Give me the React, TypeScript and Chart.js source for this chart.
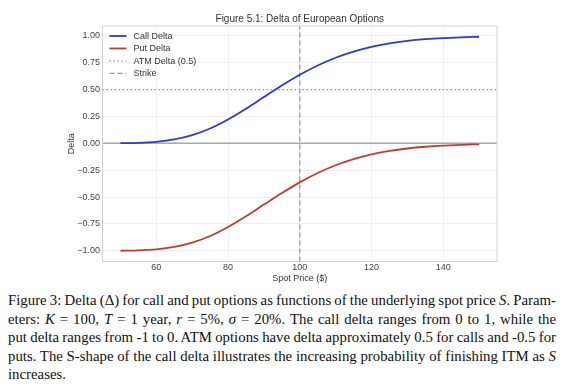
import React, { useEffect, useRef } from "react";
import { Chart, registerables } from "chart.js";

Chart.register(...registerables);

// Spot prices and the Black–Scholes deltas (K = 100, T = 1, r = 5%, sigma = 20%)
const spotPrices = [50, 55, 60, 65, 70, 75, 80, 85, 90, 95, 100, 105, 110, 115, 120, 125, 130, 135, 140, 145, 150];
const callDelta = [0.001, 0.004, 0.014, 0.036, 0.076, 0.138, 0.222, 0.322, 0.43, 0.537, 0.637, 0.724, 0.796, 0.853, 0.897, 0.929, 0.952, 0.968, 0.979, 0.986, 0.991];
const putDelta = [-0.999, -0.996, -0.986, -0.964, -0.924, -0.862, -0.778, -0.678, -0.57, -0.463, -0.363, -0.276, -0.204, -0.147, -0.103, -0.071, -0.048, -0.032, -0.021, -0.014, -0.009];

const strikePrice = 100;
const atmDelta = 0.5;
const xRange = [45, 155];
const yRange = [-1.099, 1.091];
const xTicks = [60, 80, 100, 120, 140];
const yTicks = [-1, -0.75, -0.5, -0.25, 0, 0.25, 0.5, 0.75, 1];

const SANS = '"Liberation Sans", Arial, sans-serif';

// Light frame round the plot area
const framePlugin = {
  id: "plotFrame",
  afterDraw(chart: any) {
    const { ctx, chartArea } = chart;
    ctx.save();
    ctx.strokeStyle = "#d2d2d2";
    ctx.lineWidth = 1;
    ctx.strokeRect(chartArea.left, chartArea.top, chartArea.right - chartArea.left, chartArea.bottom - chartArea.top);
    ctx.restore();
  },
};

// Legend drawn inside the top-left corner of the plot area, with each line's dash pattern
const insideLegendPlugin = {
  id: "insideLegend",
  afterDraw(chart: any) {
    const { ctx, chartArea } = chart;
    const x0 = chartArea.left + 7;
    const sample = 17;
    const rowGap = 12.45;
    let y = chartArea.top + 10;
    ctx.save();
    ctx.font = `9px ${SANS}`;
    ctx.textBaseline = "middle";
    ctx.textAlign = "left";
    chart.data.datasets.forEach((ds: any) => {
      if (ds.hideInLegend) return;
      ctx.beginPath();
      ctx.setLineDash(ds.borderDash || []);
      ctx.strokeStyle = ds.borderColor;
      ctx.lineWidth = ds.borderWidth;
      ctx.moveTo(x0, y);
      ctx.lineTo(x0 + sample, y);
      ctx.stroke();
      ctx.setLineDash([]);
      ctx.fillStyle = "#333";
      ctx.fillText(ds.label, x0 + sample + 7, y + 0.5);
      y += rowGap;
    });
    ctx.restore();
  },
};

function DeltaChart() {
  const ref = useRef<HTMLCanvasElement | null>(null);

  useEffect(() => {
    if (!ref.current) return;
    const toPoints = (ys: number[]) => spotPrices.map((x, i) => ({ x, y: ys[i] }));
    const chart = new Chart(ref.current, {
      type: "line",
      data: {
        datasets: [
          {
            label: "Call Delta",
            data: toPoints(callDelta),
            borderColor: "#2b3ad4",
            borderWidth: 1.8,
            pointRadius: 0,
            cubicInterpolationMode: "monotone",
          },
          {
            label: "Put Delta",
            data: toPoints(putDelta),
            borderColor: "#c43c2e",
            borderWidth: 1.8,
            pointRadius: 0,
            cubicInterpolationMode: "monotone",
          },
          {
            label: "ATM Delta (0.5)",
            data: [
              { x: xRange[0], y: atmDelta },
              { x: xRange[1], y: atmDelta },
            ],
            borderColor: "#9a9a9a",
            borderWidth: 1.3,
            borderDash: [1.5, 2.5],
            pointRadius: 0,
          },
          {
            label: "Strike",
            data: [
              { x: strikePrice, y: yRange[0] },
              { x: strikePrice, y: yRange[1] },
            ],
            borderColor: "#9a9a9a",
            borderWidth: 1.3,
            borderDash: [5, 3],
            pointRadius: 0,
          },
          {
            label: "zero",
            hideInLegend: true,
            data: [
              { x: xRange[0], y: 0 },
              { x: xRange[1], y: 0 },
            ],
            borderColor: "#a8a8a8",
            borderWidth: 1.4,
            pointRadius: 0,
          },
        ],
      } as any,
      options: {
        animation: false,
        responsive: false,
        layout: { padding: { left: 0, right: 67, top: 0, bottom: 0 } },
        scales: {
          x: {
            type: "linear",
            min: xRange[0],
            max: xRange[1],
            afterBuildTicks: (s: any) => {
              s.ticks = xTicks.map((v) => ({ value: v }));
            },
            afterFit: (s: any) => {
              s.height = 28.5;
            },
            grid: { color: "#ececec", lineWidth: 0.8, drawTicks: false },
            border: { display: false },
            ticks: {
              padding: 1,
              color: "#444",
              font: { family: SANS, size: 9 },
              callback: (v: any) => String(v),
            },
            title: {
              display: true,
              text: "Spot Price ($)",
              color: "#333",
              font: { family: SANS, size: 9 },
              padding: { top: 0, bottom: 6 },
            },
          },
          y: {
            type: "linear",
            min: yRange[0],
            max: yRange[1],
            afterBuildTicks: (s: any) => {
              s.ticks = yTicks.map((v) => ({ value: v }));
            },
            afterFit: (s: any) => {
              s.width = 102.5;
            },
            grid: { color: "#ececec", lineWidth: 0.8, drawTicks: false },
            border: { display: false },
            ticks: {
              padding: 2.5,
              color: "#444",
              font: { family: SANS, size: 9 },
              callback: (v: any) => Number(v).toFixed(2).replace("-", "\u2212"),
            },
            title: {
              display: true,
              text: "Delta",
              color: "#333",
              font: { family: SANS, size: 9 },
              padding: { top: 66.3, bottom: 0 },
            },
          },
        },
        plugins: {
          title: {
            display: true,
            text: "Figure 5.1: Delta of European Options",
            color: "#333",
            font: { family: SANS, size: 10, weight: "normal" },
            padding: { top: 13, bottom: 1 },
            fullSize: false,
          },
          legend: { display: false },
          tooltip: { enabled: false },
        },
      } as any,
      plugins: [framePlugin, insideLegendPlugin],
    });
    return () => chart.destroy();
  }, []);

  return <canvas ref={ref} width={564} height={290} style={{ display: "block", width: 564, height: 290 }} />;
}

const justified: React.CSSProperties = {
  textAlign: "justify",
  textAlignLast: "justify",
  whiteSpace: "nowrap",
};

export default function App() {
  return (
    <div style={{ position: "absolute", left: 0, top: 0, width: 564, height: 390, background: "#fff" }}>
      <DeltaChart />
      <div
        style={{
          position: "absolute",
          left: 8,
          top: 291,
          width: 548,
          fontFamily: '"Liberation Serif", "Times New Roman", serif',
          fontSize: 14.8,
          wordSpacing: "-2px",
          lineHeight: "18.6px",
          color: "#111",
        }}
      >
        <div style={justified}>
          Figure 3: Delta (Δ) for call and put options as functions of the underlying spot price <i>S</i>. Param-
        </div>
        <div style={justified}>
          eters: <i>K</i> = 100, <i>T</i> = 1 year, <i>r</i> = 5%, <i>σ</i> = 20%. The call delta ranges from 0 to 1, while the
        </div>
        <div style={justified}>
          put delta ranges from -1 to 0. ATM options have delta approximately 0.5 for calls and -0.5 for
        </div>
        <div style={justified}>
          puts. The S-shape of the call delta illustrates the increasing probability of finishing ITM as <i>S</i>
        </div>
        <div>increases.</div>
      </div>
    </div>
  );
}
